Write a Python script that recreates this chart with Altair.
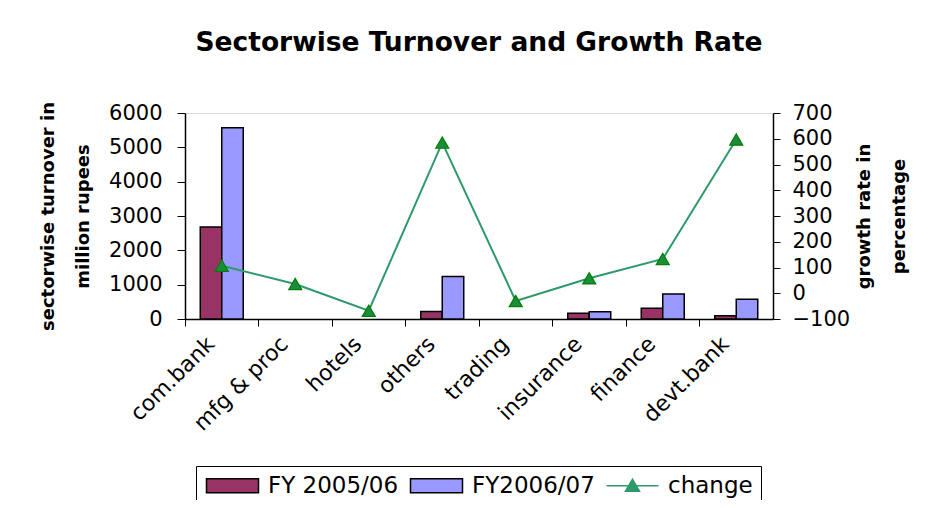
import altair as alt
import pandas as pd

sectors = ["com.bank", "mfg & proc", "hotels", "others", "trading", "insurance", "finance", "devt.bank"]
fy0506 = [2680, None, None, 215, None, 165, 310, 95]
fy0607 = [5570, None, None, 1235, None, 210, 730, 575]
change = [107, 36, -68, 585, -30, 58, 133, 597]

S1 = "FY 2005/06"
S2 = "FY2006/07"
S3 = "change"
left_ticks = [0, 1000, 2000, 3000, 4000, 5000, 6000]
right_ticks = [-100, 0, 100, 200, 300, 400, 500, 600, 700]

rows = []
for s, a, b in zip(sectors, fy0506, fy0607):
    rows.append({"sector": s, "series": S1, "value": a})
    rows.append({"sector": s, "series": S2, "value": b})
df_bars = pd.DataFrame(rows)
df_line = pd.DataFrame({"sector": sectors, "change": change})

FONT = "DejaVu Sans"

rect_path = "M-1.8,-1.4L8.6,-1.4L8.6,1.4L-1.8,1.4Z"
tri_path = "M-1.8,0L8.6,0M2.0,1.1L3.4,-1.3L4.8,1.1Z"

legend = alt.Legend(
    title=None, orient="none", legendX=11, legendY=353, direction="horizontal",
    strokeColor="black", fillColor="white", padding=8,
    labelFont=FONT, labelFontSize=23, labelColor="black",
    symbolSize=100, labelOffset=41, columnPadding=8,
    symbolType={"expr": f"datum.value === '{S3}' ? '{tri_path}' : '{rect_path}'"},
    symbolFillColor={"expr": f"datum.value === '{S1}' ? '#993366' : (datum.value === '{S2}' ? '#9999FF' : '#1E8B3C')"},
    symbolStrokeColor={"expr": f"datum.value === '{S3}' ? '#2E9A6A' : '#000000'"},
    symbolStrokeWidth=1.5, symbolOpacity=1,
)

xscale = alt.Scale(paddingInner=0, paddingOuter=0)

bars = alt.Chart(df_bars).mark_bar(stroke="black", strokeWidth=1.5).encode(
    x=alt.X("sector:N", sort=sectors, scale=xscale,
            axis=alt.Axis(title=None, labelAngle=315, labelFont=FONT, labelFontSize=22,
                          labelColor="black", ticks=False, domainColor="black",
                          domainWidth=1.5, labelPadding=14, labelOffset=-18)),
    xOffset=alt.XOffset("series:N", sort=[S1, S2],
                        scale=alt.Scale(domain=[S1, S2], paddingOuter=0.71, paddingInner=0)),
    y=alt.Y("value:Q", scale=alt.Scale(domain=[0, 6000], nice=False),
            axis=alt.Axis(values=left_ticks, format="d", grid=False,
                          title=["sectorwise turnover in", "million rupees"],
                          titleFont=FONT, titleFontSize=18, titleFontWeight="bold", titleColor="black",
                          titleLineHeight=35, titlePadding=16, labelFont=FONT, labelFontSize=21,
                          labelColor="black", tickSize=8, tickColor="black", domainColor="black",
                          domainWidth=1.5, labelPadding=15)),
    color=alt.Color("series:N",
                    scale=alt.Scale(domain=[S1, S2, S3], range=["#993366", "#9999FF", "#2E9A6A"]),
                    legend=legend),
)

xaxis2 = alt.Axis(title=None, orient="bottom", bandPosition=0, labels=False, ticks=True,
                  tickSize=7, tickColor="black", domain=False)
yaxis2 = alt.Axis(orient="right", values=right_ticks, format="d", grid=False,
                  title=["growth rate in", "percentage"],
                  titleAngle=270, titleFont=FONT, titleFontSize=18, titleFontWeight="bold",
                  titleColor="black", titleLineHeight=35, titlePadding=-11, labelFont=FONT,
                  labelFontSize=21, labelColor="black", tickSize=7, tickColor="black",
                  domainColor="black", domainWidth=1.5, labelPadding=12)
yscale2 = alt.Scale(domain=[-100, 700], nice=False)

line = alt.Chart(df_line).mark_line(color="#2E9A6A", strokeWidth=2).encode(
    x=alt.X("sector:N", sort=sectors, scale=xscale, axis=xaxis2),
    y=alt.Y("change:Q", scale=yscale2, axis=yaxis2),
)
points = alt.Chart(df_line).mark_point(shape="triangle-up", filled=True, fill="#1E8B3C",
                                       stroke="#008000", strokeWidth=1.2, size=170, opacity=1).encode(
    x=alt.X("sector:N", sort=sectors, scale=xscale, axis=xaxis2),
    y=alt.Y("change:Q", scale=yscale2, axis=yaxis2),
)

chart = alt.layer(bars, alt.layer(line, points)).resolve_scale(y="independent").resolve_axis(
    x="independent"
).properties(
    width=588, height=206,
    autosize=alt.AutoSizeParams(type="none"),
    padding={"left": 177, "top": 105, "right": 149, "bottom": 181},
    title=alt.TitleParams("Sectorwise Turnover and Growth Rate", font=FONT, fontSize=26.5,
                          fontWeight="bold", color="black", anchor="middle", offset=45),
).configure_view(fill="#FFFF99", stroke="#808080", strokeWidth=1.5).configure(background="white")

chart.save("out.html", embed_options={"renderer": "svg", "actions": False})
